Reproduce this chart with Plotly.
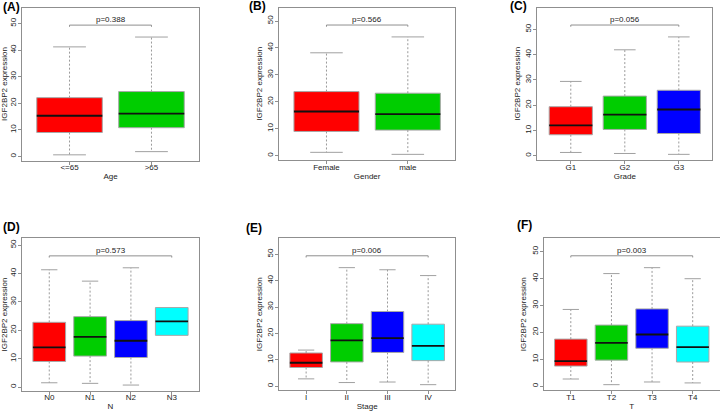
import plotly.graph_objects as go

# ---------------- data ----------------
panel_labels = ["(A)", "(B)", "(C)", "(D)", "(E)", "(F)"]
x_titles = ["Age", "Gender", "Grade", "N", "Stage", "T"]
y_title = "IGF2BP2 expression"
categories = [
    ["<=65", ">65"],
    ["Female", "male"],
    ["G1", "G2", "G3"],
    ["N0", "N1", "N2", "N3"],
    ["I", "II", "III", "IV"],
    ["T1", "T2", "T3", "T4"],
]
p_values = ["p=0.388", "p=0.566", "p=0.056", "p=0.573", "p=0.006", "p=0.003"]

lower = [
    [0.6, 1.8],
    [1.25, 0.5],
    [1.3, 0.9, 0.55],
    [1.5, 1.3, 0.7, 18.2],
    [2.8, 1.4, 1.6, 0.6],
    [2.7, 0.6, 1.6, 1.25],
]
q1 = [
    [9.0, 10.8],
    [9.0, 9.5],
    [8.3, 10.4, 8.8],
    [9.0, 10.9, 10.4, 18.2],
    [7.1, 9.2, 12.8, 9.7],
    [7.5, 9.7, 14.1, 9.0],
]
median = [
    [15.3, 16.1],
    [16.4, 15.4],
    [12.0, 16.3, 18.3],
    [14.0, 17.7, 16.3, 23.1],
    [8.9, 17.4, 18.2, 15.3],
    [9.3, 16.1, 19.2, 14.5],
]
q3 = [
    [22.1, 24.4],
    [23.8, 23.2],
    [19.4, 23.6, 25.9],
    [22.8, 24.8, 23.4, 28.0],
    [12.6, 23.7, 28.3, 23.5],
    [17.5, 22.7, 28.7, 22.3],
]
upper = [
    [41.2, 44.9],
    [38.2, 44.1],
    [29.4, 41.9, 47.0],
    [41.3, 37.3, 42.0, 28.0],
    [13.7, 44.9, 44.1, 41.9],
    [28.5, 41.8, 44.0, 39.9],
]

# ---------------- style ----------------
palette = ["#FF0000", "#00CD00", "#0000FF", "#00FFFF"]
FONT = "Liberation Sans, Arial, sans-serif"
GREY = "#8f8f8f"
W, H = 720, 412

# plot-area boxes in pixels (left, right, top, bottom)
boxes_px = [
    (22, 199, 7.5, 160.5),
    (279.3, 455, 7.5, 160),
    (537.3, 712.3, 7.5, 160),
    (22.3, 198.7, 238.3, 390.7),
    (279.3, 455, 238.3, 390.3),
    (544, 719.5, 238.3, 390.3),
]
label_px = [(1, 7), (247, 6), (508, 6), (1, 227), (244, 228), (515, 225)]

fig = go.Figure()
layout = {}
annotations = []

for i in range(6):
    n = len(categories[i])
    pos = list(range(1, n + 1))
    xs = "x" if i == 0 else f"x{i+1}"
    ys = "y" if i == 0 else f"y{i+1}"
    xa = "xaxis" if i == 0 else f"xaxis{i+1}"
    ya = "yaxis" if i == 0 else f"yaxis{i+1}"

    # boxes
    fig.add_trace(go.Bar(
        x=pos, y=[b - a for a, b in zip(q1[i], q3[i])], base=q1[i],
        width=0.8, marker=dict(color=palette[:n], line=dict(color="#a8a8a8", width=1)),
        xaxis=xs, yaxis=ys, showlegend=False, hoverinfo="skip"))

    # whiskers (dashed)
    wx, wy = [], []
    for k in range(n):
        wx += [pos[k], pos[k], None, pos[k], pos[k], None]
        wy += [q3[i][k], upper[i][k], None, q1[i][k], lower[i][k], None]
    fig.add_trace(go.Scatter(x=wx, y=wy, mode="lines",
                             line=dict(color="#9a9a9a", width=1, dash="2px,2px"),
                             xaxis=xs, yaxis=ys, showlegend=False, hoverinfo="skip"))
    # staples
    cx, cy = [], []
    for k in range(n):
        if upper[i][k] > q3[i][k]:
            cx += [pos[k] - 0.2, pos[k] + 0.2, None]
            cy += [upper[i][k], upper[i][k], None]
        if lower[i][k] < q1[i][k]:
            cx += [pos[k] - 0.2, pos[k] + 0.2, None]
            cy += [lower[i][k], lower[i][k], None]
    fig.add_trace(go.Scatter(x=cx, y=cy, mode="lines",
                             line=dict(color="#a0a0a0", width=1),
                             xaxis=xs, yaxis=ys, showlegend=False, hoverinfo="skip"))
    # medians
    mx, my = [], []
    for k in range(n):
        mx += [pos[k] - 0.4, pos[k] + 0.4, None]
        my += [median[i][k], median[i][k], None]
    fig.add_trace(go.Scatter(x=mx, y=my, mode="lines",
                             line=dict(color="#111111", width=1.8),
                             xaxis=xs, yaxis=ys, showlegend=False, hoverinfo="skip"))

    # ranges (R style: ylim = c(min, 1.2*max), 4% extension)
    lo = min(lower[i])
    hi = 1.2 * max(upper[i])
    ext = 0.04 * (hi - lo)
    yr = [lo - ext, hi + ext]
    xr = [0.5 - 0.04 * n, n + 0.5 + 0.04 * n]

    # p-value bracket
    by = 1.1 * max(upper[i])
    tick = 0.012 * (hi - lo)
    fig.add_trace(go.Scatter(x=[1, 1, n, n], y=[by - tick, by, by, by - tick], mode="lines",
                             line=dict(color=GREY, width=1),
                             xaxis=xs, yaxis=ys, showlegend=False, hoverinfo="skip"))
    annotations.append(dict(x=(1 + n) / 2, y=by, xref=xs, yref=ys, text=p_values[i],
                            showarrow=False, yanchor="bottom", yshift=-1,
                            font=dict(family=FONT, size=8, color="#222")))

    l, r, t, b = boxes_px[i]
    axis_common = dict(showline=True, mirror=True, linecolor=GREY, linewidth=1,
                       ticks="outside", ticklen=3, tickcolor=GREY, showgrid=False,
                       zeroline=False, automargin=False,
                       tickfont=dict(family=FONT, size=8, color="#222"))
    layout[xa] = dict(axis_common, domain=[l / W, r / W], anchor=ys, range=xr,
                      tickvals=pos, ticktext=categories[i], ticklabelstandoff=-4,
                      title=dict(text=x_titles[i], standoff=2,
                                 font=dict(family=FONT, size=8, color="#222")))
    layout[ya] = dict(axis_common, domain=[1 - b / H, 1 - t / H], anchor=xs, range=yr,
                      tickvals=[0, 10, 20, 30, 40, 50], tickangle=-90,
                      ticklabelstandoff=-1,
                      title=dict(text=y_title, standoff=2,
                                 font=dict(family=FONT, size=8, color="#222")))

    lx, ly = label_px[i]
    annotations.append(dict(x=lx / W, y=1 - ly / H, xref="paper", yref="paper",
                            text=f"<b>{panel_labels[i]}</b>", showarrow=False,
                            xanchor="left", yanchor="middle",
                            font=dict(family=FONT, size=12, color="#000")))

fig.update_layout(width=W, height=H, margin=dict(l=0, r=0, t=0, b=0),
                  paper_bgcolor="white", plot_bgcolor="white",
                  annotations=annotations, **layout)
fig.write_html("out.html", config={"displayModeBar": False},
               post_script="document.body.style.margin='0';document.body.style.overflow='hidden';")
